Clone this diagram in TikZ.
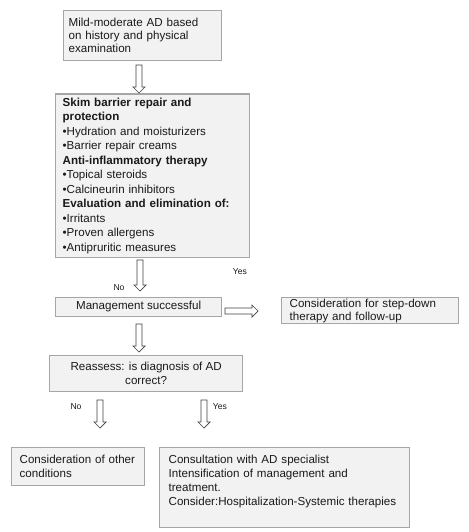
\documentclass[tikz,border=0pt]{standalone}
\usepackage{fontspec}
\setmainfont{Liberation Sans}
\usetikzlibrary{calc}
\definecolor{boxfill}{HTML}{F2F2F2}
\definecolor{boxline}{HTML}{A6A6A6}
\definecolor{arrowline}{HTML}{404040}
\definecolor{txt}{HTML}{1A1A1A}
\tikzset{
  box/.style={draw=boxline, fill=boxfill, line width=1.3pt, anchor=north west,
    inner ysep=0pt, text=txt, font=\fontsize{11.6}{14}\selectfont},
  lbox/.style={box, align=left},
  cbox/.style={box, align=center, inner xsep=0pt},
  lbl/.style={font=\fontsize{8.6}{10}\selectfont, text=txt, inner sep=0pt},
  blockarrow/.style={draw=arrowline, fill=white, line width=0.7pt, line join=miter,
    to path={let \p1=(\tikztostart), \p2=(\tikztotarget), \n1={atan2(\y2-\y1,\x2-\x1)} in
      ($(\p1)+(\n1+90:3pt)$) -- ($(\p2)+(\n1:-6pt)+(\n1+90:3pt)$)
      -- ($(\p2)+(\n1:-6pt)+(\n1+90:6pt)$) -- (\p2)
      -- ($(\p2)+(\n1:-6pt)+(\n1-90:6pt)$) -- ($(\p2)+(\n1:-6pt)+(\n1-90:3pt)$)
      -- ($(\p1)+(\n1-90:3pt)$) -- cycle}}
}
\begin{document}
\begin{tikzpicture}[x=1pt,y=-1pt]
\useasboundingbox (0,0) rectangle (468,532);

\node[lbox, font=\fontsize{11.6}{13}\selectfont, minimum width=158.5pt, minimum height=50pt,
  inner xsep=5.5pt, text width=147.5pt] (b1) at (62.5,10)
  {Mild-moderate AD based\\on history and physical\\examination};

\node[lbox, font=\fontsize{11.6}{14.5}\selectfont, minimum width=194pt, minimum height=163.5pt,
  inner xsep=7pt, text width=180pt] (b2) at (55,93.5)
  {\textbf{Skim barrier repair and}\\
   \textbf{protection}\\
   •Hydration and moisturizers\\
   •Barrier repair creams\\
   \textbf{Anti-inflammatory therapy}\\
   •Topical steroids\\
   •Calcineurin inhibitors\\
   \textbf{Evaluation and elimination of:}\\
   •Irritants\\
   •Proven allergens\\
   •Antipruritic measures};

\node[cbox, minimum width=166pt, minimum height=19.5pt] (b3) at (55,296.5)
  {Management successful};

\node[lbox, font=\fontsize{11.6}{13}\selectfont, minimum width=177pt, minimum height=26pt,
  inner xsep=8pt, text width=161pt] (b4) at (281,297)
  {Consideration for step-down\\therapy and follow-up};

\node[cbox, minimum width=193pt, minimum height=36pt] (b5) at (49,355)
  {Reassess: is diagnosis of AD\\correct?};

\node[lbox, minimum width=133pt, minimum height=38pt,
  inner xsep=8pt, text width=117pt] (b6) at (11,447)
  {Consideration of other\\conditions};

\node[lbox, minimum width=249.5pt, minimum height=80pt,
  inner xsep=9pt, text width=231.5pt] (b7) at (159,447)
  {Consultation with AD specialist\\
   Intensification of management and\\
   treatment.\\
   Consider:Hospitalization-Systemic therapies\par\vspace*{12pt}};

% arrow end points
\coordinate (a1s) at (139,65);   \coordinate (a1e) at (139,93);
\coordinate (a2s) at (140,260);  \coordinate (a2e) at (140,291);
\coordinate (a3s) at (139,324);  \coordinate (a3e) at (139,352);
\coordinate (a4s) at (225,311);  \coordinate (a4e) at (258,311);
\coordinate (a5s) at (100,400);  \coordinate (a5e) at (100,428);
\coordinate (a6s) at (204,400);  \coordinate (a6e) at (204,428);

\draw[blockarrow] (a1s) to (a1e);
\draw[blockarrow] (a2s) to (a2e);
\draw[blockarrow] (a3s) to (a3e);
\draw[blockarrow] (a4s) to (a4e);
\draw[blockarrow] (a5s) to (a5e);
\draw[blockarrow] (a6s) to (a6e);

\node[lbl] (no1) at (119,288) {No};
\node[lbl] (yes1) at (240,272) {Yes};
\node[lbl] (no2) at (76,407) {No};
\node[lbl] (yes2) at (220,407) {Yes};
\end{tikzpicture}
\end{document}
